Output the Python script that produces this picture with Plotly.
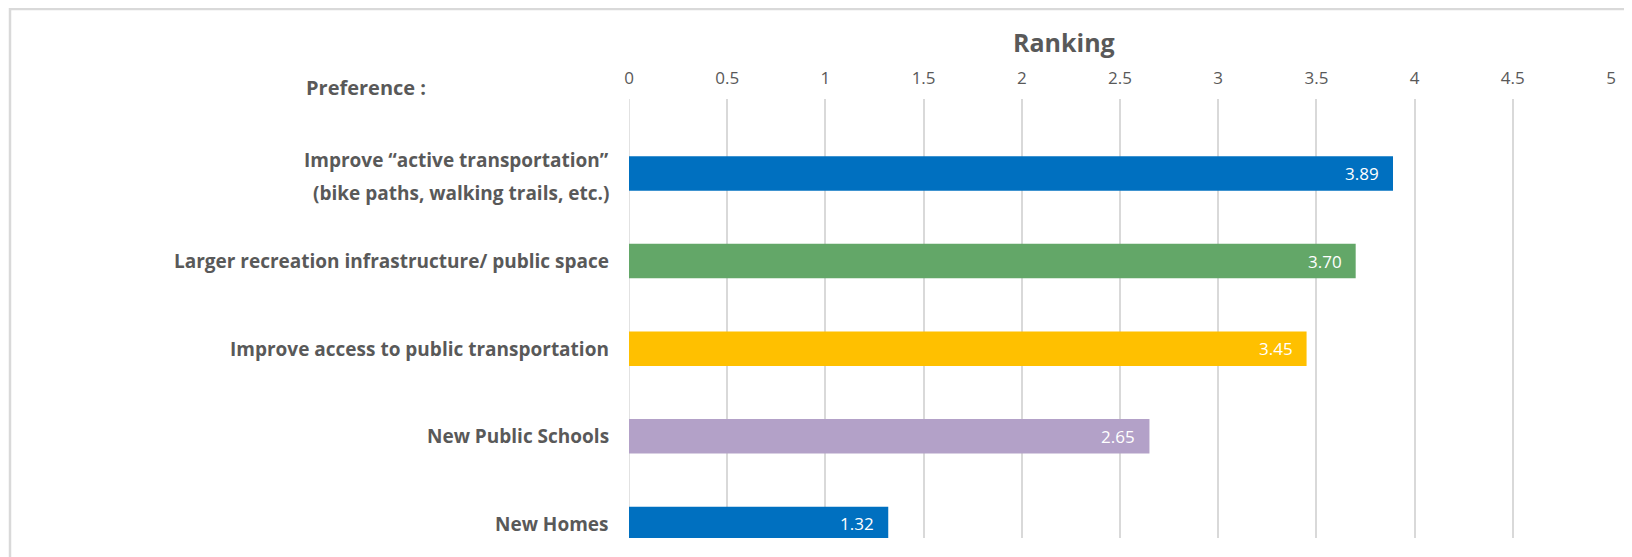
import plotly.graph_objects as go

categories = [
    "Improve “active transportation”\n(bike paths, walking trails, etc.)",
    "Larger recreation infrastructure/ public space",
    "Improve access to public transportation",
    "New Public Schools",
    "New Homes",
]
values = [3.89, 3.70, 3.45, 2.65, 1.32]
value_labels = ["3.89", "3.70", "3.45", "2.65", "1.32"]
colors = ["#0070C0", "#63A768", "#FFC000", "#B3A1C8", "#0070C0"]
x_ticks = [0, 0.5, 1, 1.5, 2, 2.5, 3, 3.5, 4, 4.5, 5]
x_tick_labels = ["0", "0.5", "1", "1.5", "2", "2.5", "3", "3.5", "4", "4.5", "5"]

# page body has an 8px default margin; the figure is sized/placed to compensate
OFF = 8
W, H = 1632 - OFF, 557 - OFF
L, R, T, B = 629 - OFF, 1611 - OFF, 99 - OFF, 538 - OFF
pw, ph = R - L, B - T

FONT = "Open Sans"
GRAY = "#595959"

positions = list(range(len(categories)))

fig = go.Figure()
fig.add_trace(go.Bar(
    x=values, y=positions, orientation="h",
    marker=dict(color=colors, line=dict(width=0)),
    width=0.394, hoverinfo="skip", showlegend=False,
))

annotations = []
# data labels
for p, v, t in zip(positions, values, value_labels):
    annotations.append(dict(x=v, y=p, xref="x", yref="y", text=t, showarrow=False,
                            xanchor="right", xshift=-12,
                            font=dict(family=FONT, size=17, color="white")))
# category labels
for p, c in zip(positions, categories):
    lines = c.split("\n")
    n = len(lines)
    for i, ln in enumerate(lines):
        off = (i - (n - 1) / 2) * 33
        annotations.append(dict(x=0, y=p, xref="paper", yref="y", text=ln, showarrow=False,
                                xanchor="right", xshift=-18, yshift=-off - (3 if n > 1 else 0),
                                font=dict(family=FONT, size=19, color=GRAY, weight="bold")))
annotations.append(dict(x=(304 - OFF - L) / pw, y=1 + (T - (87 - OFF)) / ph, xref="paper", yref="paper",
                        text="Preference :", showarrow=False, xanchor="left", yanchor="middle",
                        font=dict(family=FONT, size=20, color=GRAY, weight="bold")))
annotations.append(dict(x=(1064 - OFF - L) / pw, y=1 + (T - (42 - OFF)) / ph, xref="paper", yref="paper",
                        text="Ranking", showarrow=False, xanchor="center", yanchor="middle",
                        font=dict(family=FONT, size=25, color=GRAY, weight="bold")))

shapes = [dict(type="rect", xref="paper", yref="paper",
               x0=(10 - OFF - L) / pw, x1=(1700 - L) / pw,
               y0=1 + (T - 620) / ph, y1=1 + (T - 1) / ph,
               line=dict(color="#D9D9D9", width=2.5), fillcolor="rgba(0,0,0,0)", layer="below")]

fig.update_layout(
    width=W, height=H,
    margin=dict(l=L, r=W - R, t=T, b=H - B, pad=0),
    paper_bgcolor="white", plot_bgcolor="white",
    annotations=annotations, shapes=shapes,
    xaxis=dict(side="top", range=[0, 5], tickvals=x_ticks, ticktext=x_tick_labels,
               showgrid=True, gridcolor="#D9D9D9", gridwidth=1.5, automargin=False,
               zeroline=False, showline=False, ticks="", ticklabelstandoff=11,
               tickfont=dict(family=FONT, size=17, color=GRAY)),
    yaxis=dict(range=[4.161, -0.850], showticklabels=False, showgrid=False, automargin=False,
               zeroline=False, showline=False, ticks=""),
    bargap=0.6,
)
fig.add_vline(x=0, line=dict(color="#D9D9D9", width=1.5), layer="below")

fig.write_html("out.html")
